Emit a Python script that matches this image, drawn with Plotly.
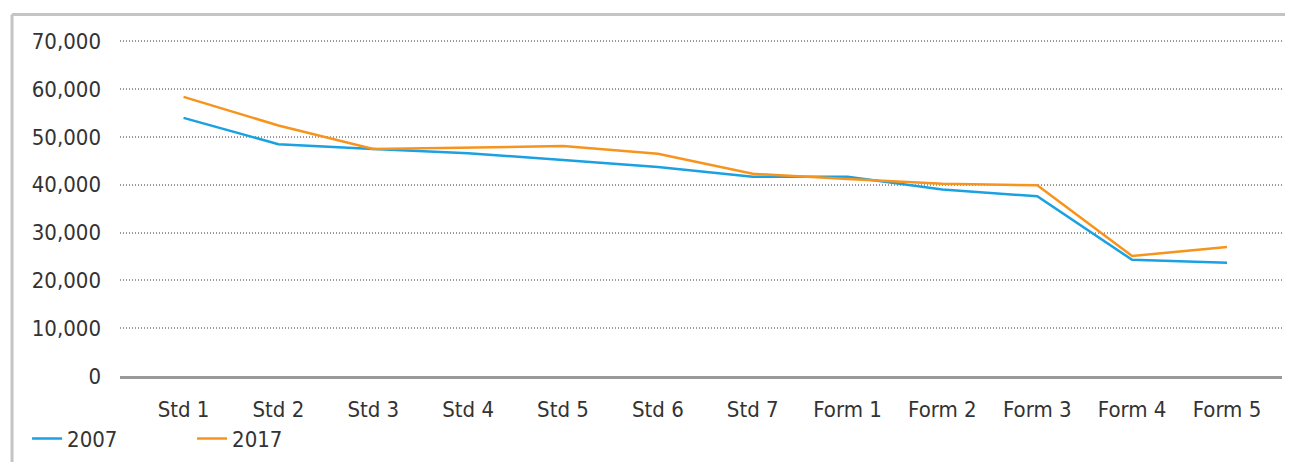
import plotly.graph_objects as go

grades = ["Std 1", "Std 2", "Std 3", "Std 4", "Std 5", "Std 6", "Std 7",
          "Form 1", "Form 2", "Form 3", "Form 4", "Form 5"]
y2007 = [54000, 48500, 47500, 46600, 45200, 43700, 41700, 41700, 39000, 37600, 24300, 23700]
y2017 = [58400, 52400, 47500, 47800, 48100, 46500, 42300, 41200, 40200, 39900, 25100, 27000]

fig = go.Figure()
fig.add_trace(go.Scatter(x=grades, y=y2007, name="2007", mode="lines",
                         line=dict(color="#1ba1e2", width=2.5)))
fig.add_trace(go.Scatter(x=grades, y=y2017, name="2017", mode="lines",
                         line=dict(color="#f7941d", width=2.5)))

# grey frame on top and left
fig.add_shape(type="line", xref="paper", yref="paper", x0=-0.0929, x1=1.01, y0=1.073, y1=1.073,
              line=dict(color="#c4c4c4", width=3))
fig.add_shape(type="line", xref="paper", yref="paper", x0=-0.0929, x1=-0.0929, y0=1.073, y1=-0.27,
              line=dict(color="#c4c4c4", width=3))

# figure sized to fit the page without scrollbars (body has an 8px margin)
fig.update_layout(
    width=1277, height=454,
    margin=dict(l=112, r=3, t=31, b=85),
    paper_bgcolor="white", plot_bgcolor="white",
    font=dict(family="DejaVu Sans Condensed, Liberation Sans Narrow, Roboto", size=22, color="#333333"),
    showlegend=True,
    legend=dict(orientation="h", x=-0.08, y=-0.245, xanchor="left", yanchor="bottom",
                entrywidth=120, font=dict(size=22), borderwidth=0, tracegroupgap=0),
    xaxis=dict(type="category", range=[-0.67, 11.58], showgrid=False,
               showline=True, linecolor="#999999", linewidth=2.5,
               ticks="", ticklabelstandoff=12),
    yaxis=dict(range=[0, 70500], tickvals=[0, 10000, 20000, 30000, 40000, 50000, 60000, 70000],
               tickformat=",d",
               showgrid=True, gridcolor="#999999", gridwidth=1.5, griddash="1px,2px",
               zeroline=False, ticks="", ticklabelstandoff=18),
)

fig.write_html("out.html")
